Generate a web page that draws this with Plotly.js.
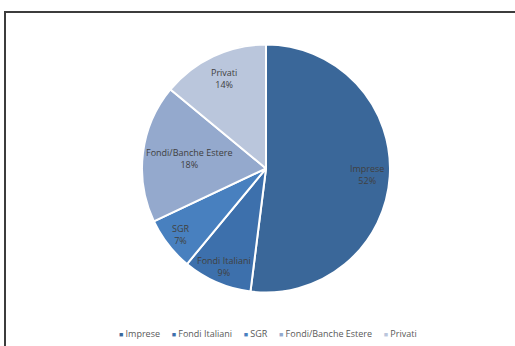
<!DOCTYPE html>
<html>
<head>
<meta charset="utf-8">
<script src="https://cdn.plot.ly/plotly-3.0.1.min.js"></script>
<style>
html,body{margin:0;padding:0;background:#fff;overflow:hidden;}
#wrap{position:relative;width:515px;height:346px;}
#frame{position:absolute;left:4px;top:11px;width:600px;height:400px;border:2px solid #3c3c3c;box-sizing:border-box;pointer-events:none;}
#chart{position:absolute;left:0;top:0;width:515px;height:346px;}
</style>
</head>
<body>
<div id="wrap">
<div id="chart"></div>
<div id="frame"></div>
</div>
<script>
var categories = ["Imprese", "Fondi Italiani", "SGR", "Fondi/Banche Estere", "Privati"];
var values = [52, 9, 7, 18, 14];
var colors = ["#3A6799", "#3D70AC", "#4880BF", "#94A9CD", "#BAC6DC"];

// layout constants (pixels)
var W = 515, H = 346;
var CX = 266, CY = 168.5, R = 124;
var labelRadius = [0.82, 0.86, 0.87, 0.62, 0.80];

var trace = {
  type: "pie",
  labels: categories,
  values: values,
  sort: false,
  direction: "clockwise",
  rotation: 0,
  marker: {colors: colors, line: {color: "#ffffff", width: 2}},
  textinfo: "none",
  hoverinfo: "none",
  showlegend: false,
  domain: {x: [(CX - R) / W, (CX + R) / W], y: [1 - (CY + R) / H, 1 - (CY - R) / H]}
};

// data labels placed at the mid-angle of each slice, derived from the values
var total = values.reduce(function (a, b) { return a + b; }, 0);
var annotations = [];
var cum = 0;
for (var i = 0; i < values.length; i++) {
  var mid = (cum + values[i] / 2) / total * 2 * Math.PI;
  cum += values[i];
  var px = CX + labelRadius[i] * R * Math.sin(mid);
  var py = CY - labelRadius[i] * R * Math.cos(mid);
  var pct = Math.round(values[i] / total * 100) + "%";
  annotations.push({
    xref: "paper", yref: "paper",
    x: px / W, y: 1 - py / H,
    xanchor: "center", yanchor: "middle",
    showarrow: false,
    text: categories[i] + "<br>" + pct,
    font: {family: "Open Sans, sans-serif", size: 9, color: "#404040"}
  });
}

// legend built as one text line
var legendParts = categories.map(function (c, i) {
  return '<span style="color:' + colors[i] + ';font-size:7px">■</span> ' + c;
});
annotations.push({
  xref: "paper", yref: "paper",
  x: 268 / W, y: 1 - 333 / H,
  xanchor: "center", yanchor: "middle",
  showarrow: false,
  text: legendParts.join("&nbsp;&nbsp;&nbsp;&nbsp;&nbsp;"),
  font: {family: "Open Sans, sans-serif", size: 9, color: "#595959"}
});

var layout = {
  width: W,
  height: H,
  margin: {l: 0, r: 0, t: 0, b: 0},
  paper_bgcolor: "rgba(0,0,0,0)",
  plot_bgcolor: "rgba(0,0,0,0)",
  showlegend: false,
  annotations: annotations
};

Plotly.newPlot("chart", [trace], layout, {staticPlot: true});
</script>
</body>
</html>
